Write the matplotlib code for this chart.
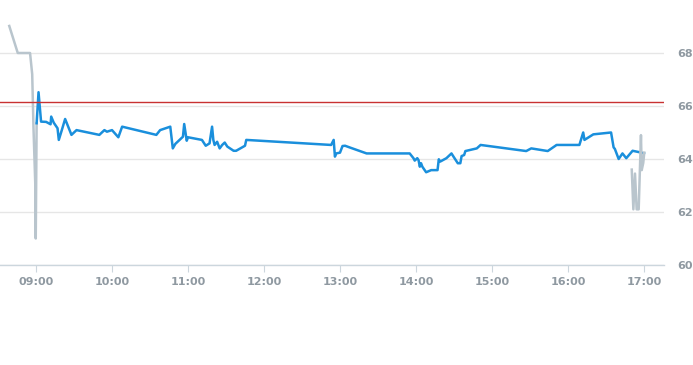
import matplotlib
matplotlib.use("Agg")
import matplotlib.pyplot as plt
import numpy as np

# regular session (blue) - time as HH:MM:SS, price
main_times = ["09:00:30", "09:02", "09:04", "09:08", "09:11:30", "09:12", "09:14", "09:17",
              "09:18", "09:20", "09:23", "09:28", "09:32", "09:50", "09:54", "09:56",
              "10:00", "10:05", "10:08", "10:35", "10:38", "10:46", "10:48", "10:50",
              "10:56", "10:57", "10:59", "11:00", "11:11", "11:14", "11:17", "11:19",
              "11:20", "11:21", "11:23", "11:25", "11:27", "11:29", "11:31", "11:36",
              "11:38", "11:45", "11:46", "12:53", "12:55", "12:56", "12:57", "13:00",
              "13:02", "13:04", "13:08", "13:21", "13:55", "13:58", "13:59", "14:01",
              "14:02", "14:03", "14:04", "14:05", "14:08", "14:12", "14:17", "14:18",
              "14:19", "14:24", "14:28", "14:30", "14:33", "14:35", "14:36", "14:38",
              "14:39", "14:48", "14:51", "15:27", "15:31", "15:44", "15:51", "16:09",
              "16:12", "16:13", "16:20", "16:34", "16:36", "16:37", "16:40", "16:43",
              "16:46", "16:51", "16:58", "17:00"]
main_vals = [65.35, 66.52, 65.41, 65.40, 65.31, 65.60, 65.37, 65.16,
             64.72, 65.03, 65.51, 64.91, 65.09, 64.91, 65.09, 65.03,
             65.09, 64.82, 65.22, 64.91, 65.09, 65.22, 64.40, 64.57,
             64.84, 65.32, 64.69, 64.82, 64.72, 64.50, 64.59, 65.22,
             64.72, 64.53, 64.65, 64.40, 64.53, 64.62, 64.47, 64.31,
             64.31, 64.50, 64.72, 64.53, 64.72, 64.09, 64.21, 64.24,
             64.49, 64.50, 64.43, 64.21, 64.21, 64.03, 63.94, 64.03,
             63.96, 63.71, 63.84, 63.71, 63.50, 63.58, 63.58, 63.99,
             63.90, 64.03, 64.21, 64.06, 63.84, 63.84, 64.11, 64.15,
             64.30, 64.40, 64.53, 64.30, 64.40, 64.30, 64.53, 64.53,
             65.00, 64.72, 64.93, 65.00, 64.44, 64.38, 64.00, 64.21,
             64.03, 64.31, 64.24, 64.21]

# extended hours (grey)
pre_times = ["08:38:54", "08:45:36", "08:55:18", "08:57", "08:58", "08:59:30", "08:59:48", "09:00:30"]
pre_vals = [69.02, 68.0, 68.0, 67.2, 65.2, 62.95, 61.0, 65.35]
post_times = ["16:50:20", "16:51:36", "16:52:54", "16:54:12", "16:55:48", "16:57:36", "16:58:12",
              "16:59:24", "17:00:12"]
post_vals = [63.6, 62.1, 63.45, 62.1, 62.1, 64.9, 63.58, 63.85, 64.24]

prev_close = 66.15
hour_ticks = [9, 10, 11, 12, 13, 14, 15, 16, 17]
y_ticks = [60, 62, 64, 66, 68]


def to_hours(t):
    parts = [float(p) for p in t.split(":")]
    while len(parts) < 3:
        parts.append(0.0)
    return parts[0] + parts[1] / 60 + parts[2] / 3600


fig = plt.figure(figsize=(6.93, 3.65), dpi=100)
ax = fig.add_axes([0, 0.274, 664 / 693, 0.726])

grid_c = "#e6e6e6"
text_c = "#8f99a1"

ax.plot([to_hours(t) for t in pre_times], pre_vals, color="#b9c5cd", lw=1.8, zorder=2)
ax.plot([to_hours(t) for t in main_times], main_vals, color="#1a8fdc", lw=1.8, zorder=3)
ax.plot([to_hours(t) for t in post_times], post_vals, color="#b9c5cd", lw=1.8, zorder=4)
ax.axhline(prev_close, color="#c83232", lw=1, zorder=5)

ax.set_xlim(9 - 36 / 76, 9 + 628 / 76)
ax.set_ylim(60, 70)

ax.set_yticks(y_ticks)
ax.set_yticklabels([str(v) for v in y_ticks])
ax.yaxis.tick_right()
ax.tick_params(axis="y", length=0, pad=15, labelsize=8, labelcolor=text_c)
for lab in ax.get_yticklabels():
    lab.set_horizontalalignment("center")
ax.grid(axis="y", color=grid_c, lw=1)

ax.set_xticks(hour_ticks)
ax.set_xticklabels(["%02d:00" % h for h in hour_ticks])
ax.tick_params(axis="x", length=5, color="#ccd6dd", pad=4, labelsize=8, labelcolor=text_c)
for lab in ax.get_xticklabels() + ax.get_yticklabels():
    lab.set_fontweight("bold")

for s in ["top", "left", "right"]:
    ax.spines[s].set_visible(False)
ax.spines["bottom"].set_color("#ccd6dd")
ax.spines["bottom"].set_linewidth(1)
ax.set_axisbelow(True)

fig.savefig("out.png", dpi=100)
